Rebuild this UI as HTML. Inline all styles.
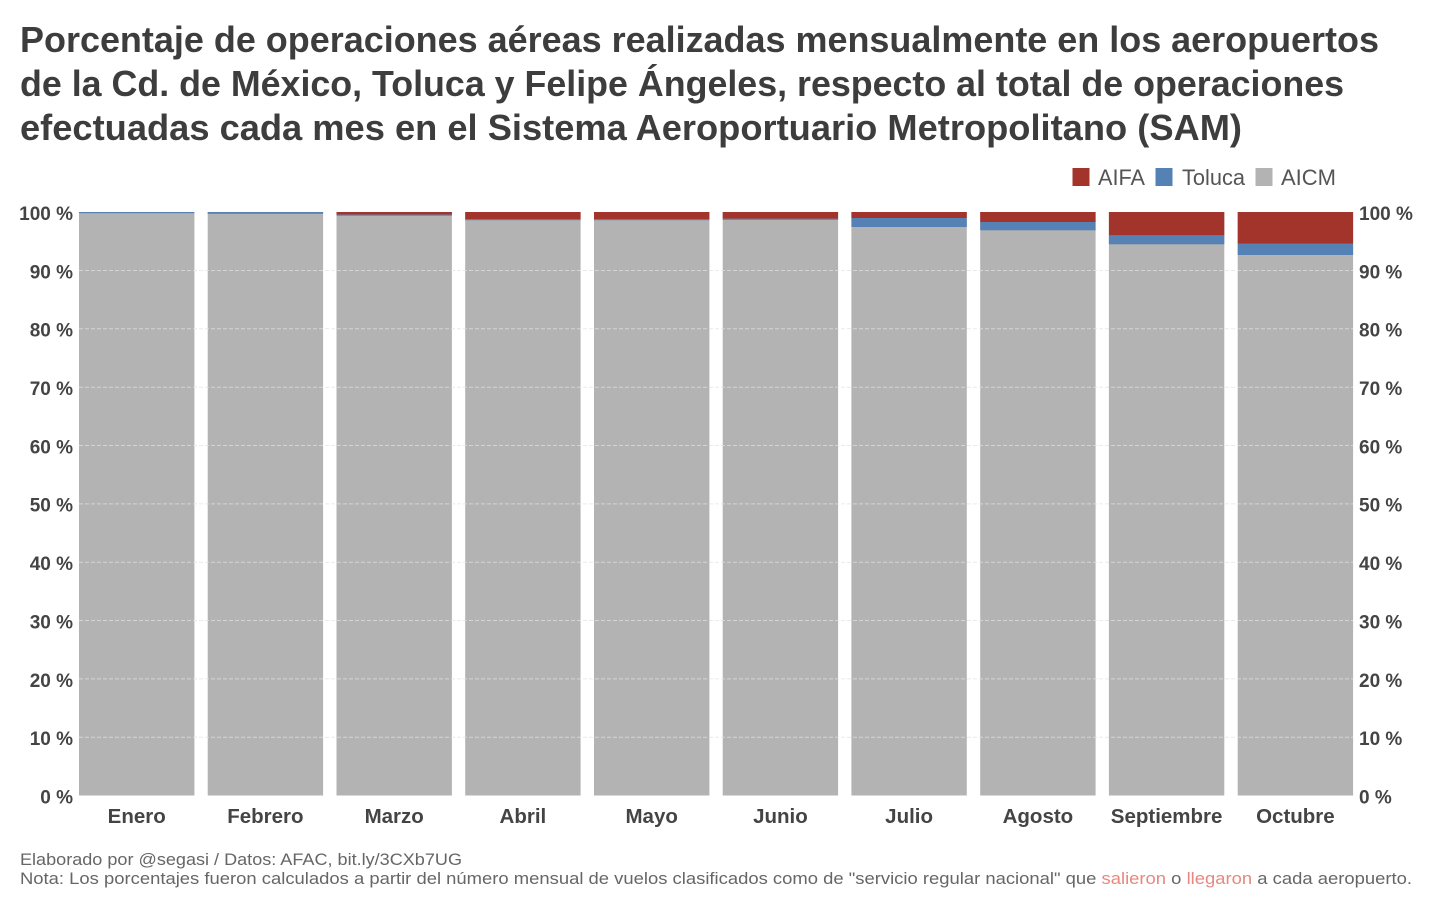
<!DOCTYPE html>
<html>
<head>
<meta charset="utf-8">
<style>
  html,body{margin:0;padding:0;background:#fff;}
  svg{display:block;}
  text{font-family:"Liberation Sans", sans-serif;}
</style>
</head>
<body>
<svg width="1444" height="912" viewBox="0 0 1444 912" xmlns="http://www.w3.org/2000/svg">
  <rect x="0" y="0" width="1444" height="912" fill="#fff"/>

  <!-- Title -->
  <g font-weight="bold" font-size="36" fill="#3d3d3d">
    <text x="20" y="52" textLength="1359" lengthAdjust="spacingAndGlyphs">Porcentaje de operaciones aéreas realizadas mensualmente en los aeropuertos</text>
    <text x="20" y="96" textLength="1324" lengthAdjust="spacingAndGlyphs">de la Cd. de México, Toluca y Felipe Ángeles, respecto al total de operaciones</text>
    <text x="20" y="140" textLength="1222" lengthAdjust="spacingAndGlyphs">efectuadas cada mes en el Sistema Aeroportuario Metropolitano (SAM)</text>
  </g>

  <!-- Legend -->
  <rect x="1072.5" y="168" width="17" height="18" fill="#a3342b"/>
  <text x="1098" y="185" font-size="22" fill="#555" textLength="47" lengthAdjust="spacingAndGlyphs">AIFA</text>
  <rect x="1155.5" y="168" width="17" height="18" fill="#5681b4"/>
  <text x="1182" y="185" font-size="22" fill="#555" textLength="63" lengthAdjust="spacingAndGlyphs">Toluca</text>
  <rect x="1255.5" y="168" width="17" height="18" fill="#b3b3b3"/>
  <text x="1281" y="185" font-size="22" fill="#555" textLength="55" lengthAdjust="spacingAndGlyphs">AICM</text>

  <!-- Bars: gray full, then blue, then red -->
  <g>
    <rect x="79" y="212" width="115.4" height="583.5" fill="#b3b3b3"/>
    <rect x="79" y="212" width="115.4" height="1.2" fill="#5681b4"/>
    <rect x="207.7" y="212" width="115.4" height="583.5" fill="#b3b3b3"/>
    <rect x="207.7" y="212" width="115.4" height="1.8" fill="#5681b4"/>
    <rect x="336.5" y="212" width="115.4" height="583.5" fill="#b3b3b3"/>
    <rect x="336.5" y="214.5" width="115.4" height="1.2" fill="#5681b4"/>
    <rect x="336.5" y="212" width="115.4" height="2.5" fill="#a3342b"/>
    <rect x="465.2" y="212" width="115.4" height="583.5" fill="#b3b3b3"/>
    <rect x="465.2" y="219" width="115.4" height="1.2" fill="#5681b4"/>
    <rect x="465.2" y="212" width="115.4" height="7" fill="#a3342b"/>
    <rect x="594" y="212" width="115.4" height="583.5" fill="#b3b3b3"/>
    <rect x="594" y="219" width="115.4" height="1.2" fill="#5681b4"/>
    <rect x="594" y="212" width="115.4" height="7" fill="#a3342b"/>
    <rect x="722.7" y="212" width="115.4" height="583.5" fill="#b3b3b3"/>
    <rect x="722.7" y="218.6" width="115.4" height="1.2" fill="#5681b4"/>
    <rect x="722.7" y="212" width="115.4" height="6.6" fill="#a3342b"/>
    <rect x="851.4" y="212" width="115.4" height="583.5" fill="#b3b3b3"/>
    <rect x="851.4" y="218" width="115.4" height="9" fill="#5681b4"/>
    <rect x="851.4" y="212" width="115.4" height="6" fill="#a3342b"/>
    <rect x="980.2" y="212" width="115.4" height="583.5" fill="#b3b3b3"/>
    <rect x="980.2" y="222" width="115.4" height="8.3" fill="#5681b4"/>
    <rect x="980.2" y="212" width="115.4" height="10" fill="#a3342b"/>
    <rect x="1108.9" y="212" width="115.4" height="583.5" fill="#b3b3b3"/>
    <rect x="1108.9" y="235.3" width="115.4" height="9" fill="#5681b4"/>
    <rect x="1108.9" y="212" width="115.4" height="23.3" fill="#a3342b"/>
    <rect x="1237.7" y="212" width="115.4" height="583.5" fill="#b3b3b3"/>
    <rect x="1237.7" y="243.7" width="115.4" height="11.3" fill="#5681b4"/>
    <rect x="1237.7" y="212" width="115.4" height="31.7" fill="#a3342b"/>
  </g>

  <!-- Gridlines -->
  <g stroke="#e2e2e2" stroke-width="1" stroke-dasharray="4 2" opacity="0.7">
    <line x1="79" x2="1353" y1="270.5" y2="270.5"/>
    <line x1="79" x2="1353" y1="328.8" y2="328.8"/>
    <line x1="79" x2="1353" y1="387.2" y2="387.2"/>
    <line x1="79" x2="1353" y1="445.5" y2="445.5"/>
    <line x1="79" x2="1353" y1="503.9" y2="503.9"/>
    <line x1="79" x2="1353" y1="562.2" y2="562.2"/>
    <line x1="79" x2="1353" y1="620.5" y2="620.5"/>
    <line x1="79" x2="1353" y1="678.9" y2="678.9"/>
    <line x1="79" x2="1353" y1="737.2" y2="737.2"/>
  </g>

  <!-- Y axis labels left -->
  <g font-weight="bold" font-size="19" fill="#444" text-anchor="end">
    <text x="73" y="220">100 %</text>
    <text x="73" y="278.3">90 %</text>
    <text x="73" y="336.7">80 %</text>
    <text x="73" y="395">70 %</text>
    <text x="73" y="453.4">60 %</text>
    <text x="73" y="511.7">50 %</text>
    <text x="73" y="570.1">40 %</text>
    <text x="73" y="628.4">30 %</text>
    <text x="73" y="686.8">20 %</text>
    <text x="73" y="745.1">10 %</text>
    <text x="73" y="803.5">0 %</text>
  </g>
  <!-- Y axis labels right -->
  <g font-weight="bold" font-size="19" fill="#444" text-anchor="start">
    <text x="1359" y="220">100 %</text>
    <text x="1359" y="278.3">90 %</text>
    <text x="1359" y="336.7">80 %</text>
    <text x="1359" y="395">70 %</text>
    <text x="1359" y="453.4">60 %</text>
    <text x="1359" y="511.7">50 %</text>
    <text x="1359" y="570.1">40 %</text>
    <text x="1359" y="628.4">30 %</text>
    <text x="1359" y="686.8">20 %</text>
    <text x="1359" y="745.1">10 %</text>
    <text x="1359" y="803.5">0 %</text>
  </g>

  <!-- X axis labels -->
  <g font-weight="bold" font-size="20.5" fill="#444" text-anchor="middle">
    <text x="136.7" y="823">Enero</text>
    <text x="265.4" y="823">Febrero</text>
    <text x="394.2" y="823">Marzo</text>
    <text x="522.9" y="823">Abril</text>
    <text x="651.7" y="823">Mayo</text>
    <text x="780.4" y="823">Junio</text>
    <text x="909.1" y="823">Julio</text>
    <text x="1037.9" y="823">Agosto</text>
    <text x="1166.6" y="823">Septiembre</text>
    <text x="1295.4" y="823">Octubre</text>
  </g>

  <!-- Footer -->
  <text x="20" y="865" font-size="16.5" fill="#666" textLength="442" lengthAdjust="spacingAndGlyphs">Elaborado por @segasi / Datos: AFAC, bit.ly/3CXb7UG</text>
  <text x="20" y="884" font-size="16.5" fill="#666" textLength="1392" lengthAdjust="spacingAndGlyphs">Nota: Los porcentajes fueron calculados a partir del número mensual de vuelos clasificados como de "servicio regular nacional" que <tspan fill="#e8877f">salieron</tspan> o <tspan fill="#e8877f">llegaron</tspan> a cada aeropuerto.</text>
</svg>
</body>
</html>
